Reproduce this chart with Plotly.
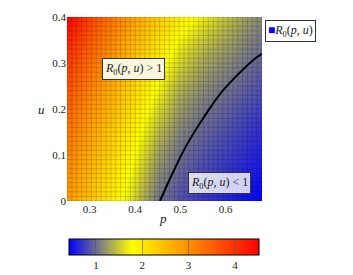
import numpy as np
import plotly.graph_objects as go

# ---- data ----
p_vals = [0.25, 0.30, 0.35, 0.40, 0.45, 0.50, 0.55, 0.60, 0.65, 0.68]
u_vals = [0.00, 0.05, 0.10, 0.15, 0.20, 0.25, 0.30, 0.35, 0.40]
R0_u000 = [2.85, 2.42, 1.98, 1.52, 1.03, 0.85, 0.72, 0.61, 0.50, 0.43]
R0_u005 = [2.98, 2.53, 2.08, 1.64, 1.14, 0.93, 0.79, 0.68, 0.57, 0.50]
R0_u010 = [3.12, 2.65, 2.19, 1.77, 1.27, 1.02, 0.87, 0.76, 0.65, 0.58]
R0_u015 = [3.27, 2.79, 2.33, 1.90, 1.42, 1.12, 0.96, 0.85, 0.73, 0.66]
R0_u020 = [3.45, 2.95, 2.50, 2.05, 1.58, 1.24, 1.06, 0.94, 0.82, 0.75]
R0_u025 = [3.66, 3.13, 2.66, 2.20, 1.75, 1.38, 1.17, 1.05, 0.93, 0.85]
R0_u030 = [3.90, 3.33, 2.83, 2.36, 1.93, 1.55, 1.30, 1.16, 1.02, 0.95]
R0_u035 = [4.18, 3.55, 3.03, 2.55, 2.13, 1.73, 1.47, 1.30, 1.13, 1.05]
R0_u040 = [4.52, 3.80, 3.25, 2.75, 2.35, 1.95, 1.68, 1.45, 1.25, 1.15]
z_rows = [R0_u000, R0_u005, R0_u010, R0_u015, R0_u020,
          R0_u025, R0_u030, R0_u035, R0_u040]

# R0(p,u) = 1 curve
curve_p = [0.455, 0.484, 0.514, 0.551, 0.587, 0.624, 0.669, 0.68]
curve_u = [0.000, 0.063, 0.122, 0.181, 0.232, 0.272, 0.313, 0.32]

x_ticks = [0.3, 0.4, 0.5, 0.6]
x_ticklabels = ["0.3", "0.4", "0.5", "0.6"]
y_ticks = [0, 0.1, 0.2, 0.3, 0.4]
y_ticklabels = ["0", "0.1", "0.2", "0.3", "0.4"]
cbar_ticks = [1, 2, 3, 4]
cbar_min, cbar_max = 0.42, 4.52

# ---- styling ----
FONT = "Liberation Serif"
colorscale = [[0.0, "rgb(0,0,255)"], [1/3, "rgb(255,255,0)"],
              [2/3, "rgb(255,128,0)"], [1.0, "rgb(255,0,0)"]]
x_range = [0.25, 0.68]
y_range = [0.0, 0.4]

fig = go.Figure()

fig.add_trace(go.Heatmap(
    x=p_vals, y=u_vals, z=z_rows, zsmooth="best",
    colorscale=colorscale, zmin=cbar_min, zmax=cbar_max,
    hoverinfo="skip",
    colorbar=dict(
        orientation="h", x=2/195, xanchor="left",
        y=(201-239)/184, yanchor="top",
        len=190, lenmode="pixels", thickness=16, thicknessmode="pixels",
        outlinecolor="black", outlinewidth=1, xpad=0, ypad=0,
        tickvals=cbar_ticks, ticks="inside", ticklen=16,
        tickcolor="rgba(90,90,90,0.6)", tickwidth=1,
        tickfont=dict(family=FONT, size=11, color="#222"),
    ),
))

# faceted-shader cell outlines (decoration)
nx, ny = 40, 40
gx = np.linspace(x_range[0], x_range[1], nx + 1)
gy = np.linspace(y_range[0], y_range[1], ny + 1)
lx, ly = [], []
for xv in gx:
    lx += [xv, xv, None]
    ly += [y_range[0], y_range[1], None]
for yv in gy:
    lx += [x_range[0], x_range[1], None]
    ly += [yv, yv, None]
fig.add_trace(go.Scatter(x=lx, y=ly, mode="lines",
                         line=dict(color="rgba(0,0,0,0.16)", width=1),
                         hoverinfo="skip", showlegend=False))

# R0 = 1 curve
fig.add_trace(go.Scatter(x=curve_p, y=curve_u, mode="lines",
                         line=dict(color="black", width=2, shape="spline", smoothing=1.0),
                         hoverinfo="skip", showlegend=False))

fig.update_xaxes(range=x_range, tickvals=x_ticks, ticktext=x_ticklabels,
                 showgrid=False, zeroline=False, showline=False, ticks="",
                 tickfont=dict(family=FONT, size=11, color="#222"))
fig.update_yaxes(range=y_range, tickvals=y_ticks, ticktext=y_ticklabels,
                 showgrid=False, zeroline=False, showline=False, ticks="",
                 tickfont=dict(family=FONT, size=11, color="#222"))

ann_font = dict(family=FONT, size=12, color="#222")
fig.add_annotation(x=0.396, y=0.287, xref="x", yref="y", showarrow=False,
                   text="<i>R</i><sub>0</sub>(<i>p</i>, <i>u</i>) > 1",
                   font=ann_font, bgcolor="rgb(250,245,222)",
                   bordercolor="#333", borderwidth=1, borderpad=2)
fig.add_annotation(x=0.587, y=0.039, xref="x", yref="y", showarrow=False,
                   text="<i>R</i><sub>0</sub>(<i>p</i>, <i>u</i>) < 1",
                   font=ann_font, bgcolor="rgba(255,255,255,0.8)",
                   bordercolor="#333", borderwidth=1, borderpad=2)
# legend box
fig.add_annotation(x=1.015, y=0.985, xref="paper", yref="paper",
                   xanchor="left", yanchor="top", showarrow=False,
                   text="<span style='color:blue'>■</span><i>R</i><sub>0</sub>(<i>p</i>, <i>u</i>)",
                   font=ann_font, bgcolor="white",
                   bordercolor="#333", borderwidth=1, borderpad=2)
# axis titles
fig.add_annotation(x=0.492, y=-0.146, xref="paper", yref="paper", showarrow=False,
                   text="<i>p</i>", font=dict(family=FONT, size=13, color="#222"))
fig.add_annotation(x=-0.16, y=0.495, xref="paper", yref="paper", showarrow=False,
                   text="<i>u</i>", font=dict(family=FONT, size=13, color="#222"))

# page has an 8px body margin, so the figure is sized/offset to compensate
fig.update_layout(width=345, height=267,
                  margin=dict(l=59, r=91, t=9, b=74, autoexpand=False),
                  plot_bgcolor="white", paper_bgcolor="white",
                  showlegend=False)

fig.write_html("out.html")
